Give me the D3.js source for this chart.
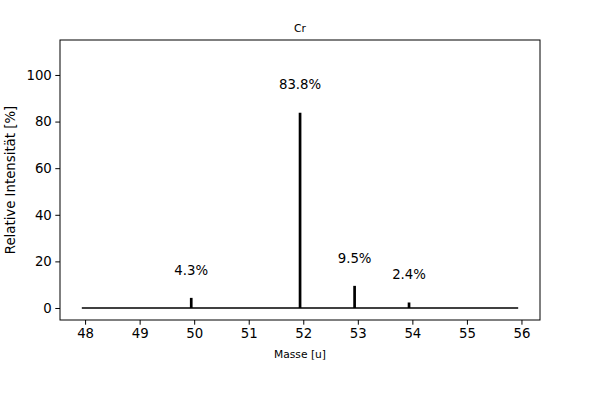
<!DOCTYPE html>
<html>
<head>
<meta charset="utf-8">
<script src="https://cdn.jsdelivr.net/npm/d3@7"></script>
<style>
  body { margin: 0; background: #fff; }
  text { font-family: "DejaVu Sans", sans-serif; }
</style>
</head>
<body>
<svg width="600" height="400"></svg>
<script>
// isotope masses and abundances for Cr
const masses = [49.946, 51.941, 52.941, 53.939];
const abundances = [4.345, 83.789, 9.501, 2.365];
const labels = ["4.3%", "83.8%", "9.5%", "2.4%"];
const baseline = [47.94, 55.94];
const xTicks = [48, 49, 50, 51, 52, 53, 54, 55, 56];
const yTicks = [0, 20, 40, 60, 80, 100];

const svg = d3.select("svg");
const plotL = 60, plotR = 540, plotT = 40, plotB = 320;

let x = d3.scaleLinear().domain([47.54, 56.34]).range([plotL, plotR]);
let y = d3.scaleLinear().domain([-5.15, 115]).range([plotB, plotT]);

// baseline
svg.append("line")
    .attr("x1", x(baseline[0])).attr("x2", x(baseline[1]))
    .attr("y1", y(0)).attr("y2", y(0))
    .attr("stroke", "#000").attr("stroke-width", 1.5);

// sticks
svg.selectAll(".stick")
    .data(masses)
    .enter()
    .append("line")
    .attr("class", "stick")
    .attr("x1", d => x(d)).attr("x2", d => x(d))
    .attr("y1", y(0))
    .attr("y2", (d, i) => y(abundances[i]))
    .attr("stroke", "#000").attr("stroke-width", 2.7);

// percent labels
svg.selectAll(".lbl")
    .data(masses)
    .enter()
    .append("text")
    .attr("class", "lbl")
    .attr("x", d => x(d))
    .attr("y", (d, i) => y(abundances[i] + 10))
    .attr("text-anchor", "middle")
    .attr("font-size", "13.3px")
    .text((d, i) => labels[i]);

// axes
svg.append("g")
    .attr("transform", `translate(0, ${plotB})`)
    .call(d3.axisBottom(x).tickValues(xTicks).tickFormat(d3.format("d")).tickSize(4.7).tickPadding(3.5))
    .call(g => g.select(".domain").remove())
    .selectAll("text").attr("font-size", "13.3px").attr("fill", "#000");

svg.append("g")
    .attr("transform", `translate(${plotL}, 0)`)
    .call(d3.axisLeft(y).tickValues(yTicks).tickSize(4.7).tickPadding(3.5))
    .call(g => g.select(".domain").remove())
    .selectAll("text").attr("font-size", "13.3px").attr("fill", "#000");

svg.selectAll(".tick line").attr("stroke", "#000").attr("stroke-width", 1);

// frame
svg.append("rect")
    .attr("x", plotL).attr("y", plotT)
    .attr("width", plotR - plotL).attr("height", plotB - plotT)
    .attr("fill", "none").attr("stroke", "#000").attr("stroke-width", 1);

svg.append("text")
    .attr("x", (plotL + plotR) / 2).attr("y", 32)
    .attr("text-anchor", "middle").attr("font-size", "10.7px")
    .text("Cr");

svg.append("text")
    .attr("x", (plotL + plotR) / 2).attr("y", 358)
    .attr("text-anchor", "middle").attr("font-size", "10.7px")
    .text("Masse [u]");

svg.append("text")
    .attr("transform", `translate(15, ${(plotT + plotB) / 2}) rotate(-90)`)
    .attr("text-anchor", "middle").attr("font-size", "13.3px")
    .text("Relative Intensität [%]");
</script>
</body>
</html>
